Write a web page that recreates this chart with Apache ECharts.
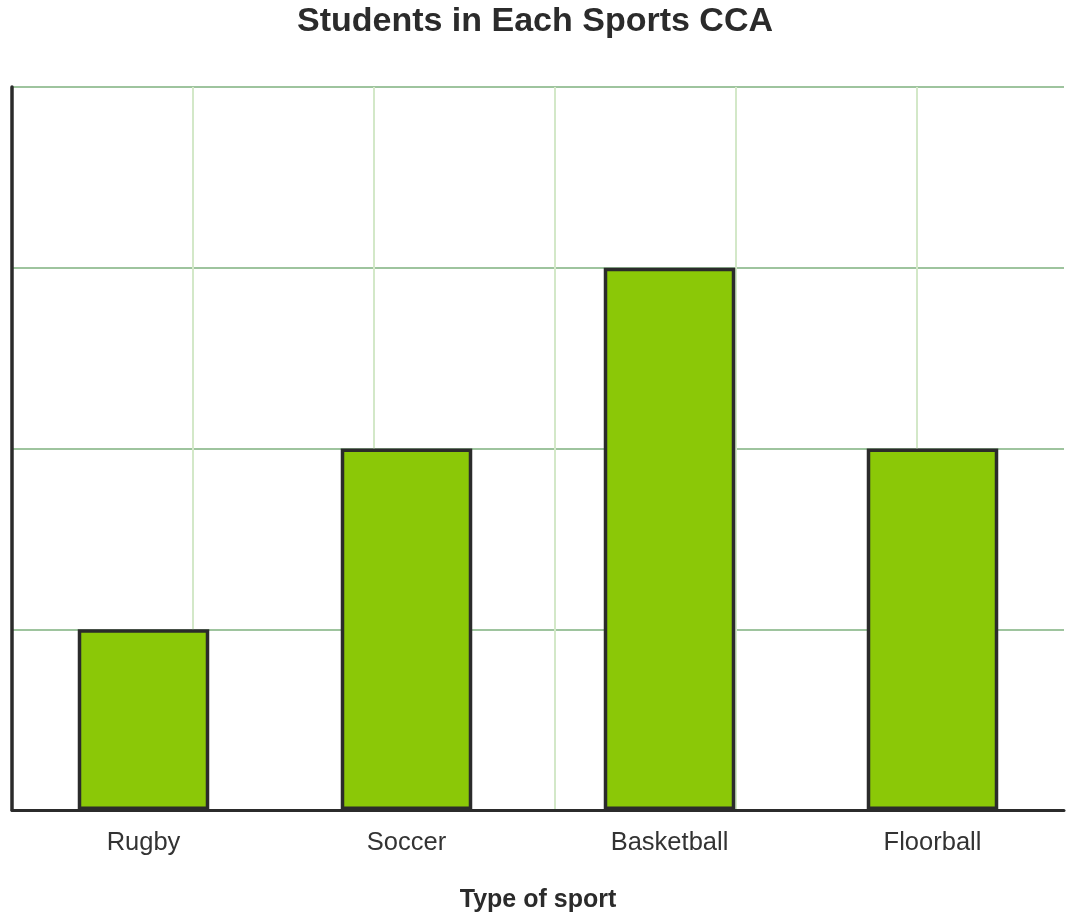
<!DOCTYPE html>
<html>
<head>
<meta charset="utf-8">
<script src="https://cdn.jsdelivr.net/npm/echarts@6/dist/echarts.min.js"></script>
<style>
html,body{margin:0;padding:0;background:#fff;}
#chart{width:1070px;height:918px;}
</style>
</head>
<body>
<div id="chart"></div>
<script>
var titleText = 'Students in Each Sports CCA';
var xAxisName = 'Type of sport';
var categories = ['Rugby', 'Soccer', 'Basketball', 'Floorball'];
var students = [1, 2, 3, 2];
var yMax = 4;
var vGridMax = 5.812;

var chart = echarts.init(document.getElementById('chart'));
chart.setOption({
  animation: false,
  backgroundColor: '#ffffff',
  title: {
    text: titleText,
    left: 'center',
    top: 0,
    textStyle: {fontFamily: 'Liberation Sans, Arial, sans-serif', fontSize: 34, fontWeight: 'bold', color: '#2b2b2b'}
  },
  grid: {left: 12, width: 1052, top: 87, height: 723, containLabel: false},
  xAxis: [{
    type: 'category',
    data: categories,
    name: xAxisName,
    nameLocation: 'middle',
    nameGap: 78,
    nameTextStyle: {fontFamily: 'Liberation Sans, Arial, sans-serif', fontSize: 25, fontWeight: 'bold', color: '#2b2b2b'},
    axisLine: {show: true, lineStyle: {color: '#2b2b2b', width: 3}},
    axisTick: {show: false},
    axisLabel: {margin: 20, fontFamily: 'Liberation Sans, Arial, sans-serif', fontSize: 25.5, color: '#333333'},
    splitLine: {show: false}
  }, {
    type: 'value',
    position: 'bottom',
    min: 0,
    max: vGridMax,
    interval: 1,
    axisLine: {show: false},
    axisTick: {show: false},
    axisLabel: {show: false},
    splitLine: {show: true, showMinLine: false, showMaxLine: false, lineStyle: {color: '#d3e8c8', width: 2}}
  }],
  yAxis: {
    type: 'value',
    min: 0,
    max: yMax,
    interval: 1,
    axisLine: {show: true, lineStyle: {color: '#2b2b2b', width: 3.5}},
    axisTick: {show: false},
    axisLabel: {show: false},
    splitLine: {show: true, showMinLine: false, lineStyle: {color: '#9ec49e', width: 2}}
  },
  series: [{
    type: 'bar',
    xAxisIndex: 0,
    data: students,
    barWidth: '50%',
    itemStyle: {color: '#8bc807', borderColor: '#2b2b2b', borderWidth: 3.5}
  }]
});
</script>
</body>
</html>
